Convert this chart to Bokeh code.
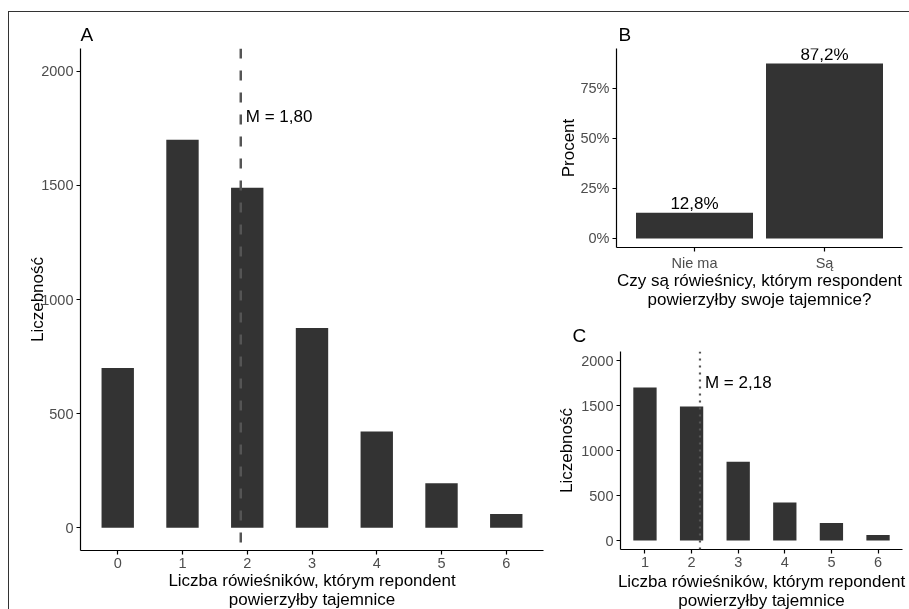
from bokeh.plotting import figure
from bokeh.models import Range1d, Span, Label, FixedTicker, NumeralTickFormatter, ColumnDataSource, Title
from bokeh.layouts import row, column
from bokeh.embed import file_html
from bokeh.resources import INLINE
from bokeh.core.properties import value

FONT = "Liberation Sans"

# ---- data ----
peers_a = [0, 1, 2, 3, 4, 5, 6]
freq_a = [700, 1700, 1490, 875, 422, 195, 60]
mean_a = 1.80
mean_a_line = 1.9
peers_c = [1, 2, 3, 4, 5, 6]
freq_c = [1700, 1490, 875, 422, 195, 60]
mean_c = 2.18
b_categories = ["Nie ma", "Są"]
b_share = [0.128, 0.872]
count_ticks = [0, 500, 1000, 1500, 2000]
pct_ticks = [0, 0.25, 0.5, 0.75]

x_title = "Liczba rówieśników, którym repondent\npowierzyłby tajemnice"
y_title = "Liczebność"
b_x_title = "Czy są rówieśnicy, którym respondent\npowierzyłby swoje tajemnice?"
b_y_title = "Procent"

BAR = "#333333"


def fmt(v, d):
    return f"{v:.{d}f}".replace(".", ",")


def base_fig(w, h, xr, yr, left, right, top, bottom, ylab_standoff, xlab_standoff):
    p = figure(width=w, height=h, x_range=xr, y_range=yr, output_backend="svg",
               toolbar_location=None, title=None,
               min_border_left=left, min_border_right=right,
               min_border_top=top, min_border_bottom=bottom)
    p.outline_line_color = None
    p.xgrid.visible = False
    p.ygrid.visible = False
    p.background_fill_color = "white"
    p.border_fill_color = "white"
    for ax in (p.xaxis[0], p.yaxis[0]):
        ax.axis_line_color = "black"
        ax.axis_line_width = 1.2
        ax.major_tick_line_color = "black"
        ax.major_tick_line_width = 1.2
        ax.major_tick_out = 4
        ax.major_tick_in = 0
        ax.minor_tick_line_color = None
        ax.major_label_text_font = FONT
        ax.major_label_text_font_size = "14.5px"
        ax.major_label_text_color = "#4d4d4d"
        ax.major_label_standoff = 3
        ax.axis_label_text_font = FONT
        ax.axis_label_text_font_size = "17px"
        ax.axis_label_text_font_style = "normal"
        ax.axis_label_text_color = "black"
        ax.axis_label_text_line_height = 1.0
    p.yaxis[0].axis_label_standoff = ylab_standoff
    p.xaxis[0].axis_label_standoff = xlab_standoff
    return p


def panel_title(p, text, offset, standoff):
    p.add_layout(Title(text=text, align="left", offset=offset, standoff=standoff,
                       text_font=FONT, text_font_size="19px", text_color="black",
                       text_font_style="normal"), "above")


# ---- Panel A ----
pA = base_fig(541, 609, Range1d(-0.575, 6.575), Range1d(-100, 2100), 71, 7, 36, 71, -9, 0)
pA.vbar(x=peers_a, top=freq_a, width=0.5, fill_color=BAR, line_color=None)
pA.add_layout(Span(location=mean_a_line, dimension="height", line_color="#555555",
                   line_width=2.5, line_dash="10 12"))
pA.add_layout(Label(x=mean_a_line, y=1800, text=f"M = {fmt(mean_a, 2)}", x_offset=5,
                    text_font=FONT, text_font_size="17px", text_color="black",
                    text_baseline="middle", text_align="left"))
pA.xaxis.ticker = FixedTicker(ticks=peers_a)
pA.yaxis.ticker = FixedTicker(ticks=count_ticks)
pA.xaxis.axis_label = x_title
pA.yaxis.axis_label = y_title
panel_title(pA, "A", 0, 8)

# ---- Panel B ----
b_x = [1, 2]
pB = base_fig(359, 305, Range1d(0.4, 2.6), Range1d(-0.045, 0.947), 66, 7, 36, 70, -1, -3)
pB.vbar(x=b_x, top=b_share, width=0.9, fill_color=BAR, line_color=None)
src_b = ColumnDataSource(dict(x=b_x, y=b_share,
                              t=[fmt(v * 100, 1) + "%" for v in b_share]))
pB.text(x="x", y="y", text="t", source=src_b, text_font=value(FONT),
        text_font_size="17px", text_color="black", text_align="center",
        text_baseline="bottom")
pB.xaxis.ticker = FixedTicker(ticks=b_x)
pB.xaxis.major_label_overrides = {b_x[i]: b_categories[i] for i in range(2)}
pB.yaxis.ticker = FixedTicker(ticks=pct_ticks)
pB.yaxis.formatter = NumeralTickFormatter(format="0%")
pB.xaxis.axis_label = b_x_title
pB.yaxis.axis_label = b_y_title
panel_title(pB, "B", 2, 8)

# ---- Panel C ----
pC = base_fig(359, 304, Range1d(0.475, 6.525), Range1d(-100, 2100), 70, 7, 33, 72, 2, 2)
pC.vbar(x=peers_c, top=freq_c, width=0.5, fill_color=BAR, line_color=None)
pC.add_layout(Span(location=mean_c, dimension="height", line_color="#555555",
                   line_width=2.2, line_dash="2 5"))
pC.add_layout(Label(x=mean_c, y=1760, text=f"M = {fmt(mean_c, 2)}", x_offset=5,
                    text_font=FONT, text_font_size="17px", text_color="black",
                    text_baseline="middle", text_align="left"))
pC.xaxis.ticker = FixedTicker(ticks=peers_c)
pC.yaxis.ticker = FixedTicker(ticks=count_ticks)
pC.xaxis.axis_label = x_title
pC.yaxis.axis_label = y_title
panel_title(pC, "C", -48, 11)

layout = row(pA, column(row(pB), row(pC), spacing=0), spacing=0,
             styles={"position": "fixed", "top": "11px", "left": "8px",
                     "border-top": "1px solid #333333",
                     "border-left": "1px solid #333333"})

open("out.html", "w").write(file_html(layout, INLINE))
